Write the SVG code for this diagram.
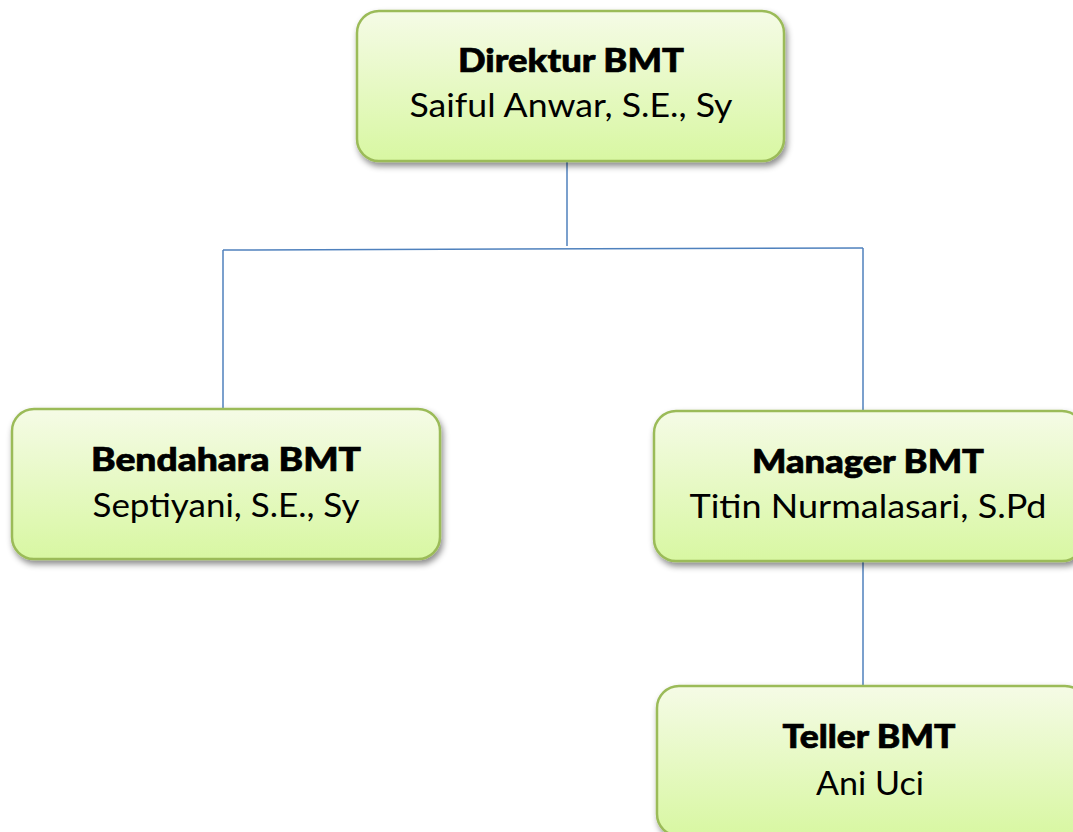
<svg xmlns="http://www.w3.org/2000/svg" width="1073" height="832" viewBox="0 0 1073 832">
<defs>
<linearGradient id="g" x1="0" y1="0" x2="0" y2="1">
<stop offset="0" stop-color="#f5fbe6"/>
<stop offset="1" stop-color="#d8f7a2"/>
</linearGradient>
<filter id="sh" x="-10%" y="-10%" width="120%" height="130%">
<feDropShadow dx="2" dy="4" stdDeviation="3" flood-color="#000" flood-opacity="0.45"/>
</filter>
</defs>
<style>
.box{fill:url(#g);stroke:#9bbb59;stroke-width:2.5;filter:url(#sh)}
.t{font-family:Lato,"Open Sans",sans-serif;font-weight:900;font-size:33px;fill:#000;stroke:#000;stroke-width:0.7;text-anchor:middle}
.n{font-family:Lato,"Open Sans",sans-serif;font-weight:400;font-size:33px;fill:#000;text-anchor:middle}
.c{stroke:#4f81bd;stroke-width:1.5;fill:none}
</style>
<rect width="1073" height="832" fill="#fff"/>
<g id="connectors">
<path class="c" d="M567 162 V246"/>
<path class="c" d="M223 250 L863 248"/>
<path class="c" d="M223 250 V409"/>
<path class="c" d="M863 248 V411"/>
<path class="c" d="M863 561 V686"/>
</g>
<g id="direktur">
<rect class="box" x="357" y="11" width="427" height="150" rx="22"/>
<text class="t" x="571" y="72" textLength="226" lengthAdjust="spacingAndGlyphs">Direktur BMT</text>
<text class="n" x="571" y="117" textLength="323" lengthAdjust="spacingAndGlyphs">Saiful Anwar, S.E., Sy</text>
</g>
<g id="bendahara">
<rect class="box" x="12" y="409" width="428" height="150" rx="22"/>
<text class="t" x="226" y="471" textLength="270" lengthAdjust="spacingAndGlyphs">Bendahara BMT</text>
<text class="n" x="226" y="517" textLength="267" lengthAdjust="spacingAndGlyphs">Septiyani, S.E., Sy</text>
</g>
<g id="manager">
<rect class="box" x="654" y="411" width="430" height="150" rx="22"/>
<text class="t" x="868" y="473" textLength="232" lengthAdjust="spacingAndGlyphs">Manager BMT</text>
<text class="n" x="868" y="518" textLength="357" lengthAdjust="spacingAndGlyphs">Titin Nurmalasari, S.Pd</text>
</g>
<g id="teller">
<rect class="box" x="657" y="686" width="430" height="150" rx="22"/>
<text class="t" x="869" y="748" textLength="173" lengthAdjust="spacingAndGlyphs">Teller BMT</text>
<text class="n" x="870" y="795" textLength="108" lengthAdjust="spacingAndGlyphs">Ani Uci</text>
</g>
</svg>
